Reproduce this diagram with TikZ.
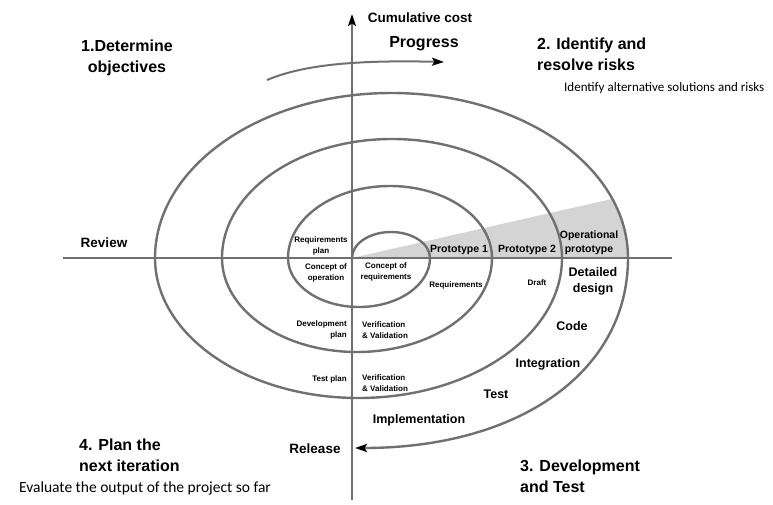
\documentclass[tikz,border=0pt]{standalone}
\usepackage{fontspec}
\setmainfont{Liberation Sans}
\newfontfamily\calfont{Carlito}
\usetikzlibrary{arrows.meta}
\definecolor{linegray}{HTML}{707070}
\definecolor{wedgegray}{HTML}{D4D4D4}
\begin{document}
\begin{tikzpicture}[x=1pt,y=1pt,
  spiral/.style={draw=linegray, line width=2.4pt},
  axisline/.style={draw=linegray, line width=2pt},
  tipk/.style={-{Stealth[length=12pt,width=8pt,inset=2.5pt,color=black]}},
  big/.style={font=\bfseries\fontsize{16}{20.5}\selectfont, align=left, inner sep=0pt},
  med/.style={font=\bfseries\fontsize{13.5}{16}\selectfont, inner sep=0pt},
  mid/.style={font=\bfseries\fontsize{12.5}{16}\selectfont, align=center, inner sep=0pt},
  proto/.style={font=\bfseries\fontsize{10.5}{13.5}\selectfont, align=center, inner sep=0pt},
  small/.style={font=\bfseries\fontsize{8}{10.5}\selectfont, align=center, inner sep=0pt},
  note/.style={font=\calfont\fontsize{13}{16}\selectfont, inner sep=0pt}]
\useasboundingbox (0,0) rectangle (773,-505);
% shaded wedge
\fill[wedgegray] (352,-258) -- ([shift={(391.5,-258)}]21:236.5 and 165)
  arc[start angle=21,end angle=0,x radius=236.5,y radius=165] -- cycle;
% axes
\coordinate (vbot) at (352,-500);
\coordinate (vtop) at (352,-14);
\coordinate (hl) at (63,-258);
\coordinate (hr) at (672,-258);
\draw[axisline] (hl) -- (hr);
\draw[axisline, tipk] (vbot) -- (vtop);
% spiral
\coordinate (sp0) at (352,-258);
\coordinate (spend) at (355,-448);
\draw[spiral, tipk] (sp0)
  arc[start angle=180,end angle=0,x radius=39,y radius=26]
  arc[start angle=0,end angle=-180,x radius=71,y radius=49]
  arc[start angle=180,end angle=0,x radius=102,y radius=72]
  arc[start angle=0,end angle=-180,x radius=135,y radius=94]
  arc[start angle=180,end angle=0,x radius=170,y radius=119]
  arc[start angle=0,end angle=-180,x radius=203.5,y radius=140]
  arc[start angle=180,end angle=0,x radius=236.5,y radius=165]
  .. controls (628,-372) and (519,-448) .. (spend);
% progress arrow
\coordinate (pa) at (267,-80);
\coordinate (pb) at (444,-62);
\draw[spiral, line width=2pt, tipk] (pa) .. controls (305,-64) and (360,-60) .. (pb);
% texts
\node[med] (cost) at (420,-18) {Cumulative cost};
\node[big] (progress) at (424,-44) {Progress};
\node[big, align=center] (obj) at (127,-58) {1.Determine\\objectives};
\node[big, anchor=north west] (risks) at (537,-38) {2. Identify and\\resolve risks};
\node[note, anchor=west] (alt) at (564,-88) {Identify alternative solutions and risks};
\node[med] (review) at (104,-243) {Review};
\node[small] (reqplan) at (321,-246) {Requirements\\plan};
\node[small] (conop) at (326,-273) {Concept of\\operation};
\node[small] (conreq) at (386,-272) {Concept of\\requirements};
\node[proto] (p1) at (459,-250) {Prototype 1};
\node[proto] (p2) at (527,-250) {Prototype 2};
\node[proto] (op) at (589,-243) {Operational\\prototype};
\node[small] (reqs) at (456,-285) {Requirements};
\node[small] (draft) at (537,-283) {Draft};
\node[mid] (det) at (593,-281) {Detailed\\design};
\node[mid] (code) at (572,-326) {Code};
\node[mid] (integ) at (548,-364) {Integration};
\node[mid] (test) at (496,-394) {Test};
\node[mid] (impl) at (419,-420) {Implementation};
\node[med] (release) at (315,-449) {Release};
\node[small, align=right, anchor=east] (devplan) at (347,-330) {Development\\plan};
\node[small, align=left, anchor=west] (vv1) at (362,-330) {Verification\\\&\ Validation};
\node[small, anchor=east] (testplan) at (347,-379) {Test plan};
\node[small, align=left, anchor=west] (vv2) at (362,-383) {Verification\\\&\ Validation};
\node[big, anchor=north west] (plan) at (79,-439) {4. Plan the\\next iteration};
\node[note, font=\calfont\fontsize{15.5}{18}\selectfont] (eval) at (145,-488) {Evaluate the output of the project so far};
\node[big, anchor=north west] (dev) at (520,-460) {3. Development\\and Test};
\end{tikzpicture}
\end{document}
